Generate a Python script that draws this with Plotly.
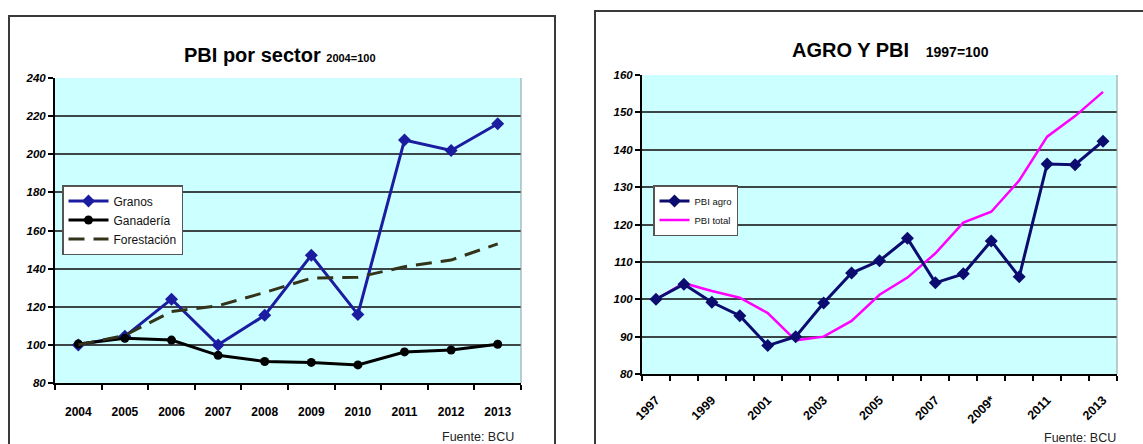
import plotly.graph_objects as go

# ---------------- data ----------------
years_left = [2004, 2005, 2006, 2007, 2008, 2009, 2010, 2011, 2012, 2013]
granos = [100, 104.5, 124, 100, 115.5, 147, 116, 207.5, 202, 216]
ganaderia = [100.5, 103.5, 102.5, 94.5, 91.3, 90.8, 89.5, 96.3, 97.3, 100.3]
forestacion = [100, 105, 117.5, 120.5, 127.5, 135, 135.5, 141, 144.5, 153]

years_right = list(range(1997, 2014))
pbi_agro = [100, 104, 99.2, 95.6, 87.6, 90, 99, 107, 110.3, 116.3, 104.4,
            106.8, 115.6, 106, 136.2, 136, 142.3]
pbi_total = [100, 104.3, 102.2, 100.4, 96.3, 89, 90, 94.2, 101.2, 105.8, 112.3,
             120.5, 123.4, 131.8, 143.5, 149, 155.5]
right_tick_years = [1997, 1999, 2001, 2003, 2005, 2007, 2009, 2011, 2013]
right_tick_text = ["1997", "1999", "2001", "2003", "2005", "2007", "2009*", "2011", "2013"]

W, H = 1143, 444
def px(x):
    return x / W
def py(y):
    return 1 - y / H

FONT = "Liberation Sans, Arial, sans-serif"
GRID = "#3c4646"

fig = go.Figure()

# left chart traces
fig.add_trace(go.Scatter(x=years_left, y=granos, name="Granos", mode="lines+markers",
                         line=dict(color="#1c1ca0", width=3),
                         marker=dict(symbol="diamond", size=10, color="#1c1ca0"),
                         xaxis="x", yaxis="y", legend="legend", legendgroup="a"))
fig.add_trace(go.Scatter(x=years_left, y=ganaderia, name="Ganadería", mode="lines+markers",
                         line=dict(color="#000000", width=3),
                         marker=dict(symbol="circle", size=9, color="#000000"),
                         xaxis="x", yaxis="y", legend="legend", legendgroup="b"))
fig.add_trace(go.Scatter(x=years_left, y=forestacion, name="Forestación", mode="lines",
                         line=dict(color="#33331a", width=3, dash="16px,9px"),
                         xaxis="x", yaxis="y", legend="legend", legendgroup="c"))

# right chart traces
fig.add_trace(go.Scatter(x=years_right, y=pbi_total, name="PBI total", mode="lines",
                         line=dict(color="#ff00ff", width=2.5),
                         xaxis="x2", yaxis="y2", legend="legend2", legendgroup="e",
                         legendrank=2))
fig.add_trace(go.Scatter(x=years_right, y=pbi_agro, name="PBI agro", mode="lines+markers",
                         line=dict(color="#0c0c70", width=3),
                         marker=dict(symbol="diamond", size=10, color="#0c0c70"),
                         xaxis="x2", yaxis="y2", legend="legend2", legendgroup="d",
                         legendrank=1))

tickfont = dict(family=FONT, size=12, color="black", weight="bold")
xrtickfont = dict(family=FONT, size=12.5, color="black", weight="bold")
ytickfont = dict(family=FONT, size=11.5, color="black", weight="bold", style="italic")

minor_l = dict(tickmode="linear", tick0=2003.5, dtick=1, ticks="outside", ticklen=5,
               tickwidth=1.5, tickcolor="black", showgrid=False)
minor_r = dict(tickmode="linear", tick0=1996.5, dtick=1, ticks="outside", ticklen=5,
               tickwidth=1.5, tickcolor="black", showgrid=False)

fig.update_layout(
    width=W, height=H,
    margin=dict(l=0, r=0, t=0, b=0, pad=0, autoexpand=False),
    paper_bgcolor="white", plot_bgcolor="#ccffff",
    showlegend=True,
    xaxis=dict(domain=[px(55), px(521)], anchor="y", range=[2003.5, 2013.5],
               tickmode="array", tickvals=years_left, ticks="", showgrid=False,
               showline=True, linecolor="black", linewidth=2, zeroline=False,
               tickfont=tickfont, minor=minor_l, ticklabelstandoff=17, automargin=False),
    yaxis=dict(domain=[py(383), py(78)], anchor="x", range=[80, 240],
               tickmode="linear", tick0=80, dtick=20, ticks="outside", ticklen=5,
               tickwidth=1.5, tickcolor="black", showgrid=True, gridcolor=GRID,
               gridwidth=1.6, showline=True, linecolor="black", linewidth=2,
               zeroline=False, tickfont=ytickfont, automargin=False),
    xaxis2=dict(domain=[px(642), px(1117)], anchor="y2", range=[1996.5, 2013.5],
                tickmode="array", tickvals=right_tick_years, ticktext=right_tick_text,
                ticks="", showgrid=False, tickangle=-45,
                showline=True, linecolor="black", linewidth=2, zeroline=False,
                tickfont=xrtickfont, minor=minor_r, ticklabelstandoff=12, automargin=False),
    yaxis2=dict(domain=[py(374), py(75)], anchor="x2", range=[80, 160],
                tickmode="linear", tick0=80, dtick=10, ticks="outside", ticklen=5,
                tickwidth=1.5, tickcolor="black", showgrid=True, gridcolor=GRID,
                gridwidth=1.6, showline=True, linecolor="black", linewidth=2,
                zeroline=False, tickfont=ytickfont, automargin=False),
    legend=dict(x=px(62), y=py(185), xanchor="left", yanchor="top",
                bgcolor="white", bordercolor="#555555", borderwidth=1.5,
                font=dict(family=FONT, size=12, color="#111111"),
                itemwidth=40, tracegroupgap=5, traceorder="normal"),
    legend2=dict(x=px(653), y=py(185), xanchor="left", yanchor="top",
                 bgcolor="white", bordercolor="#555555", borderwidth=1.5,
                 font=dict(family=FONT, size=9.5, color="#111111"),
                 itemwidth=30, tracegroupgap=4, traceorder="normal"),
)

# outer chart frames and plot area right edges
shapes = [
    dict(type="rect", xref="paper", yref="paper", x0=px(9), x1=px(555), y0=py(460), y1=py(16),
         line=dict(color="#3a3a3a", width=2), layer="below"),
    dict(type="rect", xref="paper", yref="paper", x0=px(595), x1=px(1160), y0=py(460), y1=py(11),
         line=dict(color="#3a3a3a", width=2), layer="below"),
    dict(type="line", xref="paper", yref="paper", x0=px(521), x1=px(521), y0=py(383), y1=py(78),
         line=dict(color="#8a9a9a", width=1)),
    dict(type="line", xref="paper", yref="paper", x0=px(1117), x1=px(1117), y0=py(374), y1=py(75),
         line=dict(color="#8a9a9a", width=1)),
]
fig.update_layout(shapes=shapes)

annotations = [
    dict(text="<b>PBI por sector</b> <span style='font-size:11px'><b>2004=100</b></span>",
         x=px(280), y=py(55), xref="paper", yref="paper", xanchor="center", yanchor="middle",
         showarrow=False, font=dict(family=FONT, size=20, color="black")),
    dict(text="<b>AGRO Y PBI</b>   <span style='font-size:14px'><b>1997=100</b></span>",
         x=px(891), y=py(50), xref="paper", yref="paper", xanchor="center", yanchor="middle",
         showarrow=False, font=dict(family=FONT, size=20, color="black")),
    dict(text="Fuente: BCU", x=px(516), y=py(437), xref="paper", yref="paper",
         xanchor="right", yanchor="middle", showarrow=False,
         font=dict(family=FONT, size=12.5, color="#222222")),
    dict(text="Fuente: BCU", x=px(1118), y=py(438), xref="paper", yref="paper",
         xanchor="right", yanchor="middle", showarrow=False,
         font=dict(family=FONT, size=12.5, color="#222222")),
]
fig.update_layout(annotations=annotations)

fig.write_html("out.html", config={"displayModeBar": False},
               post_script="document.body.style.margin='0';")
